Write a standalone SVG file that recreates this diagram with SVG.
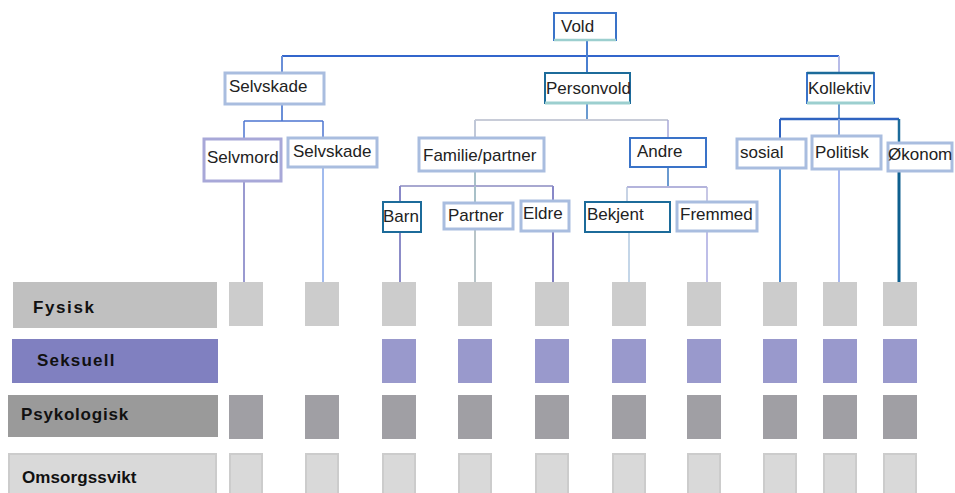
<svg xmlns="http://www.w3.org/2000/svg" width="955" height="493" viewBox="0 0 955 493">
<style>
.t{font-family:"Liberation Sans",Arial,sans-serif;font-size:17px;fill:#222}
.g{font-family:"Liberation Sans",Arial,sans-serif;font-size:17px;font-weight:bold;fill:#111}
.box{fill:#fff}
.lb{stroke:#a9bddf;stroke-width:3}
.dk{stroke:#1c6b9a;stroke-width:2}
.bl{stroke:#3a73c8;stroke-width:2}
.pu{stroke:#a8a8d8;stroke-width:3}
.f{fill:#cccccc}
.s{fill:#9999cc}
.p{fill:#a09fa4}
.o{fill:#d9d9d9;stroke:#cccccc;stroke-width:2}
line{fill:none}
</style>
<rect width="955" height="493" fill="#fff"/>
<g id="connectors">
  <line x1="282" y1="56" x2="839" y2="56" stroke="#3366cc" stroke-width="2"/>
  <line x1="587" y1="41" x2="587" y2="72" stroke="#4a7fd0" stroke-width="2"/>
  <line x1="282" y1="56" x2="282" y2="72" stroke="#6a8fd8" stroke-width="2"/>
  <line x1="839" y1="56" x2="839" y2="72" stroke="#b8bce8" stroke-width="2"/>
  <line x1="282" y1="105" x2="282" y2="121" stroke="#6a8fd8" stroke-width="2"/>
  <line x1="244" y1="121" x2="323" y2="121" stroke="#4d74d0" stroke-width="1.5"/>
  <line x1="244" y1="121" x2="244" y2="138" stroke="#4d74d0" stroke-width="1.5"/>
  <line x1="323" y1="121" x2="323" y2="137" stroke="#4d74d0" stroke-width="1.5"/>
  <line x1="587" y1="104" x2="587" y2="120" stroke="#6a9ad0" stroke-width="2"/>
  <line x1="475" y1="120" x2="668" y2="120" stroke="#c8ccd8" stroke-width="2"/>
  <line x1="475" y1="120" x2="475" y2="137" stroke="#c0c8d8" stroke-width="2"/>
  <line x1="668" y1="120" x2="668" y2="137" stroke="#a8a8d8" stroke-width="1.5"/>
  <line x1="839" y1="104" x2="839" y2="119" stroke="#6a9ad0" stroke-width="2"/>
  <line x1="780" y1="119" x2="899" y2="119" stroke="#2f63c0" stroke-width="2.5"/>
  <line x1="780" y1="119" x2="780" y2="138" stroke="#2f63c0" stroke-width="2"/>
  <line x1="839" y1="119" x2="839" y2="135" stroke="#8aa8e0" stroke-width="2"/>
  <line x1="899" y1="119" x2="899" y2="142" stroke="#1c6b9a" stroke-width="2.5"/>
  <line x1="475" y1="172" x2="475" y2="186" stroke="#a8c0c8" stroke-width="2"/>
  <line x1="400" y1="186" x2="553" y2="186" stroke="#a8a8d0" stroke-width="2"/>
  <line x1="400" y1="186" x2="400" y2="201" stroke="#8888c8" stroke-width="2"/>
  <line x1="475" y1="186" x2="475" y2="202" stroke="#a8c0c8" stroke-width="2"/>
  <line x1="553" y1="186" x2="553" y2="200" stroke="#8888c8" stroke-width="2"/>
  <line x1="668" y1="168" x2="668" y2="187" stroke="#6a9ad0" stroke-width="2"/>
  <line x1="627" y1="187" x2="707" y2="187" stroke="#b4b4dc" stroke-width="2"/>
  <line x1="627" y1="187" x2="627" y2="201" stroke="#b4c4dc" stroke-width="1.5"/>
  <line x1="707" y1="187" x2="707" y2="201" stroke="#b4b4dc" stroke-width="1.5"/>
  <line x1="244" y1="182" x2="244" y2="282" stroke="#9a9ad0" stroke-width="2"/>
  <line x1="323" y1="168" x2="323" y2="282" stroke="#4477dd" stroke-width="1"/>
  <line x1="400" y1="233" x2="400" y2="282" stroke="#8c8cc8" stroke-width="2"/>
  <line x1="475" y1="230" x2="475" y2="282" stroke="#b8c4c8" stroke-width="2"/>
  <line x1="553" y1="232" x2="553" y2="282" stroke="#7f7fc0" stroke-width="2"/>
  <line x1="629" y1="233" x2="629" y2="282" stroke="#b0c8e0" stroke-width="1.5"/>
  <line x1="707" y1="232" x2="707" y2="282" stroke="#a8a8e0" stroke-width="1.5"/>
  <line x1="780" y1="169" x2="780" y2="282" stroke="#4a8ad0" stroke-width="2"/>
  <line x1="839" y1="170" x2="839" y2="282" stroke="#a8b8f0" stroke-width="2"/>
  <line x1="899" y1="172" x2="899" y2="282" stroke="#0e5f8e" stroke-width="3"/>
</g>
<g id="n-vold"><rect class="box bl" x="554" y="13" width="62" height="27"/><line x1="554" y1="40" x2="616" y2="40" stroke="#9ccfcf" stroke-width="2.5"/><text class="t" x="561" y="32">Vold</text></g>
<g id="n-selvskade1"><rect class="box lb" x="225" y="73" width="99" height="31"/><text class="t" x="229" y="92">Selvskade</text></g>
<g id="n-personvold"><rect class="box dk" x="545" y="73" width="85" height="30"/><line x1="545" y1="103" x2="630" y2="103" stroke="#9ccfcf" stroke-width="3"/><text class="t" x="546" y="94">Personvold</text></g>
<g id="n-kollektiv"><rect class="box bl" x="807" y="73" width="67" height="30"/><line x1="807" y1="73" x2="874" y2="73" stroke="#1c6b9a" stroke-width="2.5"/><line x1="807" y1="103" x2="874" y2="103" stroke="#9ccfcf" stroke-width="3"/><text class="t" x="808" y="94">Kollektiv</text></g>
<g id="n-selvmord"><rect class="box pu" x="204" y="139" width="77" height="42"/><text class="t" x="207" y="163">Selvmord</text></g>
<g id="n-selvskade2"><rect class="box lb" x="288" y="138" width="89" height="29"/><text class="t" x="293" y="157">Selvskade</text></g>
<g id="n-familie"><rect class="box lb" x="419" y="138" width="125" height="33"/><text class="t" x="423" y="161">Familie/partner</text></g>
<g id="n-andre"><rect class="box bl" x="630" y="138" width="76" height="29"/><text class="t" x="637" y="157">Andre</text></g>
<g id="n-sosial"><rect class="box lb" x="737" y="139" width="69" height="29"/><text class="t" x="740" y="158">sosial</text></g>
<g id="n-politisk"><rect class="box lb" x="812" y="136" width="69" height="33"/><text class="t" x="815" y="158">Politisk</text></g>
<g id="n-okonom"><rect class="box lb" x="888" y="143" width="64" height="28"/><text class="t" x="888" y="160">Økonom</text></g>
<g id="n-barn"><rect class="box dk" x="383" y="202" width="38" height="30"/><text class="t" x="383" y="222">Barn</text></g>
<g id="n-partner"><rect class="box lb" x="444" y="203" width="69" height="26"/><text class="t" x="448" y="221">Partner</text></g>
<g id="n-eldre"><rect class="box lb" x="521" y="201" width="48" height="30"/><text class="t" x="523" y="219">Eldre</text></g>
<g id="n-bekjent"><rect class="box dk" x="585" y="202" width="85" height="30"/><text class="t" x="587" y="220">Bekjent</text></g>
<g id="n-fremmed"><rect class="box lb" x="677" y="202" width="80" height="29"/><text class="t" x="680" y="220">Fremmed</text></g>
<g id="row-fysisk">
  <rect x="13" y="282" width="204" height="46" fill="#c0c0c0"/>
  <text class="g" x="33" y="313" letter-spacing="1.6">Fysisk</text>
  <rect class="f" x="229" y="282" width="34" height="44"/><rect class="f" x="305" y="282" width="34" height="44"/><rect class="f" x="382" y="282" width="34" height="44"/><rect class="f" x="458" y="282" width="34" height="44"/><rect class="f" x="535" y="282" width="34" height="44"/><rect class="f" x="612" y="282" width="34" height="44"/><rect class="f" x="687" y="282" width="34" height="44"/><rect class="f" x="763" y="282" width="34" height="44"/><rect class="f" x="823" y="282" width="34" height="44"/><rect class="f" x="883" y="282" width="34" height="44"/>
</g>
<g id="row-seksuell">
  <rect x="12" y="339" width="206" height="44" fill="#8080c0"/>
  <text class="g" x="37" y="366" letter-spacing="1.2">Seksuell</text>
  <rect class="s" x="382" y="339" width="34" height="44"/><rect class="s" x="458" y="339" width="34" height="44"/><rect class="s" x="535" y="339" width="34" height="44"/><rect class="s" x="612" y="339" width="34" height="44"/><rect class="s" x="687" y="339" width="34" height="44"/><rect class="s" x="763" y="339" width="34" height="44"/><rect class="s" x="823" y="339" width="34" height="44"/><rect class="s" x="883" y="339" width="34" height="44"/>
</g>
<g id="row-psykologisk">
  <rect x="8" y="395" width="210" height="42" fill="#9a9a9a"/>
  <text class="g" x="21" y="420" letter-spacing="0.8">Psykologisk</text>
  <rect class="p" x="229" y="395" width="34" height="44"/><rect class="p" x="305" y="395" width="34" height="44"/><rect class="p" x="382" y="395" width="34" height="44"/><rect class="p" x="458" y="395" width="34" height="44"/><rect class="p" x="535" y="395" width="34" height="44"/><rect class="p" x="612" y="395" width="34" height="44"/><rect class="p" x="687" y="395" width="34" height="44"/><rect class="p" x="763" y="395" width="34" height="44"/><rect class="p" x="823" y="395" width="34" height="44"/><rect class="p" x="883" y="395" width="34" height="44"/>
</g>
<g id="row-omsorgssvikt">
  <rect x="9" y="454" width="207" height="45" fill="#d9d9d9" stroke="#cccccc" stroke-width="2"/>
  <text class="g" x="22" y="483" letter-spacing="0.1">Omsorgssvikt</text>
  <rect class="o" x="230" y="454" width="32" height="45"/><rect class="o" x="306" y="454" width="32" height="45"/><rect class="o" x="383" y="454" width="32" height="45"/><rect class="o" x="459" y="454" width="32" height="45"/><rect class="o" x="536" y="454" width="32" height="45"/><rect class="o" x="613" y="454" width="32" height="45"/><rect class="o" x="688" y="454" width="32" height="45"/><rect class="o" x="764" y="454" width="32" height="45"/><rect class="o" x="824" y="454" width="32" height="45"/><rect class="o" x="884" y="454" width="32" height="45"/>
</g>
</svg>
